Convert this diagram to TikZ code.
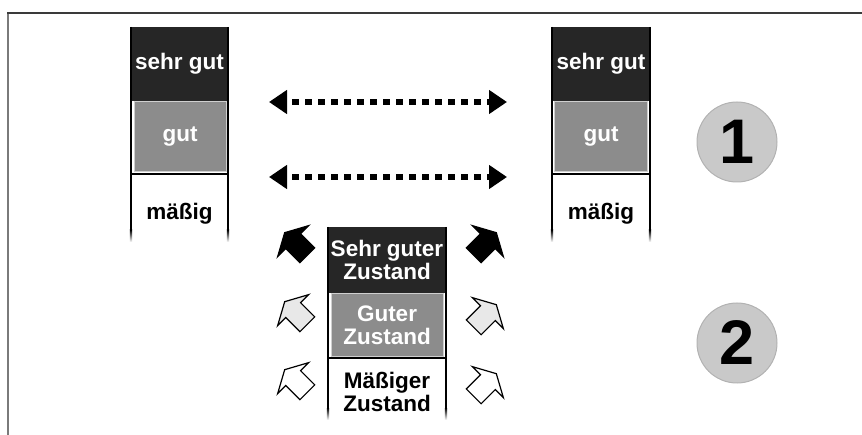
\documentclass[tikz,border=0pt]{standalone}
\usepackage{fontspec}
\setmainfont{Liberation Sans}
\usetikzlibrary{arrows.meta}

\definecolor{darkfill}{HTML}{262626}
\definecolor{midfill}{HTML}{8C8C8C}
\definecolor{midedge}{HTML}{CFCFCF}
\definecolor{discfill}{HTML}{C9C9C9}
\definecolor{discedge}{HTML}{B2B2B2}
\definecolor{paleshade}{HTML}{E8E8E8}
\definecolor{frametop}{HTML}{3A3A3A}
\definecolor{frameleft}{HTML}{7A7A7A}

\tikzset{
  label text/.style={font=\bfseries\fontsize{22.5}{23}\selectfont, align=center, inner sep=0pt},
  topcell/.style={label text, fill=darkfill, draw=darkfill, text=white},
  midcell/.style={label text, fill=midfill, draw=midedge, line width=1pt, text=white},
  lowcell/.style={label text, text=black},
  rail/.style={line width=2.2pt, black},
  divider/.style={line width=2pt, black},
  disc/.style={circle, fill=discfill, draw=discedge, line width=1pt, minimum size=80pt,
               inner sep=0pt, font=\bfseries\fontsize{63}{63}\selectfont},
  dotarrow/.style={line width=6.5pt, dash pattern=on 6.5pt off 6.5pt, dash phase=6.5pt,
                   {Triangle[length=18pt,width=23pt]}-{Triangle[length=18pt,width=23pt]}},
  pics/blockarrow/.style={code={
    \draw[line width=1.2pt, line join=miter, pic actions]
      (-16,-10.5) -- (4,-10.5) -- (4,-22) -- (16,0) -- (4,22) -- (4,10.5) -- (-16,10.5) -- cycle;
  }}
}

% vertical rail with a softly fading lower end
\newcommand{\railline}[3]{%
  \draw[rail] (#1,#2) -- (#1,#3-10);
  \shade[top color=black, bottom color=white] (#1-1.1,#3-10) rectangle (#1+1.1,#3+2);
}

\begin{document}
\begin{tikzpicture}[x=1pt,y=-1pt]
  \useasboundingbox (0,0) rectangle (862,435);

  % frame
  \draw[frameleft, line width=2pt] (8,435) -- (8,13);
  \draw[frametop, line width=1.5pt] (7,13) -- (862,13);

  % left scale
  \node[topcell, minimum width=97pt, minimum height=73pt] (L1) at (179.5,63.5) {sehr gut};
  \node[midcell, minimum width=92pt, minimum height=70pt] (L2) at (180,137) {gut};
  \draw[divider] (131,174) -- (228,174);
  \node[lowcell] (L3) at (179.5,214) {mäßig};
  \railline{131}{27}{240}
  \railline{228}{27}{240}

  % right scale
  \node[topcell, minimum width=98pt, minimum height=73pt] (R1) at (601,63.5) {sehr gut};
  \node[midcell, minimum width=93pt, minimum height=70pt] (R2) at (601,137) {gut};
  \draw[divider] (552,174) -- (650,174);
  \node[lowcell] (R3) at (601,214) {mäßig};
  \railline{552}{27}{240}
  \railline{650}{27}{240}

  % correspondence arrows between the two scales
  \coordinate (t1) at (269,102);
  \coordinate (t2) at (507,102);
  \coordinate (m1) at (269,177);
  \coordinate (m2) at (507,177);
  \draw[dotarrow] (t1) -- (t2);
  \draw[dotarrow] (m1) -- (m2);

  % middle scale
  \node[topcell, minimum width=118pt, minimum height=65pt] (C1) at (387,259.5) {Sehr guter\\Zustand};
  \node[midcell, minimum width=112pt, minimum height=63pt] (C2) at (387,325.5) {Guter\\Zustand};
  \draw[divider] (328,358) -- (446,358);
  \node[lowcell] (C3) at (387,391.5) {Mäßiger\\Zustand};
  \railline{328}{227}{418}
  \railline{446}{227}{418}

  % upward block arrows beside the middle scale
  \pic[fill=black, rotate=135] at (296,244) {blockarrow};
  \pic[fill=paleshade, rotate=135] at (296,313) {blockarrow};
  \pic[fill=white, rotate=135] at (296,381) {blockarrow};
  \pic[fill=black, rotate=45] at (485,244) {blockarrow};
  \pic[fill=paleshade, rotate=45] at (485,316) {blockarrow};
  \pic[fill=white, rotate=45] at (485,385) {blockarrow};

  % step numbers
  \node[disc] (n1) at (737,142) {1};
  \node[disc] (n2) at (737,343) {2};
\end{tikzpicture}
\end{document}
